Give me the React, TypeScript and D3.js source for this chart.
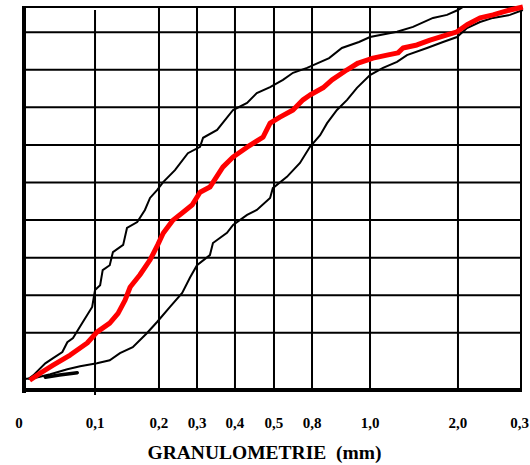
import React from "react";
import * as d3 from "d3";

// Grid tick values (mm) along the irregular x axis and their printed labels
const xTickValues = [0, 0.1, 0.2, 0.3, 0.4, 0.5, 0.8, 1.0, 2.0, 3.0];
const xTickLabels = ["0", "0,1", "0,2", "0,3", "0,4", "0,5", "0,8", "1,0", "2,0", "0,3"];
// Percent passing grid values
const yGridValues = [10, 20, 30, 40, 50, 60, 70, 80, 90];

// Middle (red) curve: [size mm, % passing]
const redCurve: [number, number][] = [
  [0.008, -2.6], [0.023, -0.7], [0.041, 1.4], [0.065, 4.1], [0.089, 7.3],
  [0.103, 10.2], [0.123, 12.6], [0.136, 15.2], [0.147, 18.7], [0.155, 22.2],
  [0.17, 25.4], [0.186, 29.4], [0.198, 33.4], [0.211, 36.5], [0.237, 40.0],
  [0.261, 41.9], [0.287, 44.0], [0.308, 47.4], [0.334, 48.8], [0.368, 54.1],
  [0.395, 56.8], [0.431, 59.4], [0.472, 62.1], [0.49, 65.8], [0.547, 67.4],
  [0.65, 69.3], [0.729, 72.0], [0.784, 73.3], [0.838, 75.2], [0.869, 77.3],
  [0.921, 80.0], [0.959, 81.8], [1.034, 83.1], [1.193, 83.9], [1.318, 84.5],
  [1.375, 85.8], [1.534, 86.6], [1.682, 87.9], [1.875, 89.3], [1.989, 90.1],
  [2.143, 92.0], [2.349, 93.8], [2.556, 94.6], [2.825, 95.9], [3.03, 96.7],
];

// Upper envelope (black)
const upperCurve: [number, number][] = [
  [0.006, -2.3], [0.013, -1.3], [0.03, 1.9], [0.041, 3.3], [0.054, 4.9],
  [0.061, 7.5], [0.069, 8.6], [0.082, 12.6], [0.096, 16.9], [0.1, 21.4],
  [0.108, 22.7], [0.112, 26.7], [0.123, 28.0], [0.128, 31.5], [0.144, 33.4],
  [0.15, 37.9], [0.166, 39.5], [0.178, 42.7], [0.186, 45.9], [0.197, 48.0],
  [0.211, 50.1], [0.242, 53.3], [0.276, 57.8], [0.308, 59.5], [0.316, 61.9],
  [0.353, 64.0], [0.395, 69.3], [0.431, 71.2], [0.456, 73.8], [0.49, 75.4],
  [0.571, 77.3], [0.65, 79.2], [0.761, 80.5], [0.859, 83.1], [0.903, 85.8],
  [0.962, 87.4], [1.0, 88.7], [1.307, 90.1], [1.489, 91.4], [1.716, 93.8],
  [1.875, 94.6], [2.0, 95.9], [2.079, 96.7], [3.0, 96.7],
];

// Lower envelope (black)
const lowerCurve: [number, number][] = [
  [0.0, -2.3], [0.015, -2.0], [0.037, -1.0], [0.061, 0.3], [0.079, 1.1],
  [0.103, 1.9], [0.123, 2.7], [0.139, 4.6], [0.159, 6.2], [0.181, 9.9],
  [0.197, 12.9], [0.229, 16.9], [0.261, 20.6], [0.282, 24.8], [0.3, 28.0],
  [0.334, 30.7], [0.342, 33.9], [0.379, 36.6], [0.395, 38.7], [0.431, 41.4],
  [0.456, 42.7], [0.49, 45.9], [0.497, 48.5], [0.602, 51.5], [0.705, 55.2],
  [0.784, 59.5], [0.828, 62.6], [0.852, 65.8], [0.886, 69.3], [0.921, 72.0],
  [0.955, 75.2], [1.0, 78.6], [1.148, 80.5], [1.307, 82.1], [1.42, 83.9],
  [1.648, 85.8], [1.83, 87.4], [1.989, 88.7], [2.143, 91.1], [2.349, 92.7],
  [2.556, 93.8], [2.825, 94.6], [3.03, 95.9],
];

// Small stray stroke near the origin
const spur: [number, number][] = [
  [0.03, -1.8], [0.05, -1.2], [0.075, -0.6],
];

const W = 530;
const H = 465;
const left = 24;
const right = 521;
const top = 7;
const bottom = 390;
// relative positions of the grid values along the axis
const xFractions = [0, 0.1429, 0.2716, 0.3481, 0.4245, 0.503, 0.5795, 0.6962, 0.8732, 1];

const FONT = "Liberation Serif, DejaVu Serif, Times New Roman, serif";

export default function App() {
  const x = d3
    .scaleLinear()
    .domain(xTickValues)
    .range(xFractions.map((f) => left + f * (right - left)));
  const y = d3.scaleLinear().domain([-5.2, 96.7]).range([bottom, top]);

  const line = d3
    .line<[number, number]>()
    .x((d) => x(d[0]))
    .y((d) => y(d[1]));

  const textStyle: React.CSSProperties = {
    fontFamily: FONT,
    fontWeight: 700,
  };

  return (
    <svg
      width={W}
      height={H}
      style={{ position: "absolute", left: 0, top: 0, background: "#fff" }}
    >
      <rect x={0} y={0} width={W} height={H} fill="#fff" />
      {/* horizontal grid */}
      {yGridValues.map((v) => (
        <line key={"h" + v} x1={left} x2={right} y1={y(v)} y2={y(v)} stroke="#000" strokeWidth={2} />
      ))}
      {/* vertical grid */}
      {xTickValues.slice(1).map((v, i) => (
        <line
          key={"v" + v}
          x1={x(v)}
          x2={x(v)}
          y1={i === 0 ? top + 3 : top}
          y2={i === 0 ? bottom + 5 : bottom + 2}
          stroke="#000"
          strokeWidth={2}
        />
      ))}
      {/* frame */}
      <line x1={left - 2} x2={right + 1} y1={top} y2={top} stroke="#000" strokeWidth={2} />
      <line x1={left} x2={left} y1={top - 1} y2={bottom + 3} stroke="#000" strokeWidth={4} />
      <line x1={left - 2} x2={right} y1={bottom} y2={bottom} stroke="#000" strokeWidth={4} />

      {/* curves */}
      <path d={line(upperCurve) || ""} fill="none" stroke="#000" strokeWidth={2} />
      <path d={line(lowerCurve) || ""} fill="none" stroke="#000" strokeWidth={2} />
      <path d={line(spur) || ""} fill="none" stroke="#000" strokeWidth={3.5} strokeLinecap="round" />
      <path
        d={line(redCurve) || ""}
        fill="none"
        stroke="#ff0000"
        strokeWidth={5}
        strokeLinejoin="round"
      />

      {/* tick labels */}
      {xTickValues.map((v, i) => {
        const last = i === xTickValues.length - 1;
        return (
          <text
            key={"t" + i}
            x={last ? W - 1 : x(v) + (i === 0 ? -5 : 0)}
            y={428}
            textAnchor={last ? "end" : "middle"}
            fontSize={15}
            fill="#000"
            style={textStyle}
          >
            {xTickLabels[i]}
          </text>
        );
      })}
      <text
        x={264.5}
        y={459}
        textAnchor="middle"
        fontSize={19.5}
        fill="#000"
        style={{ ...textStyle, whiteSpace: "pre" }}
      >
        {"GRANULOMETRIE  (mm)"}
      </text>
    </svg>
  );
}
